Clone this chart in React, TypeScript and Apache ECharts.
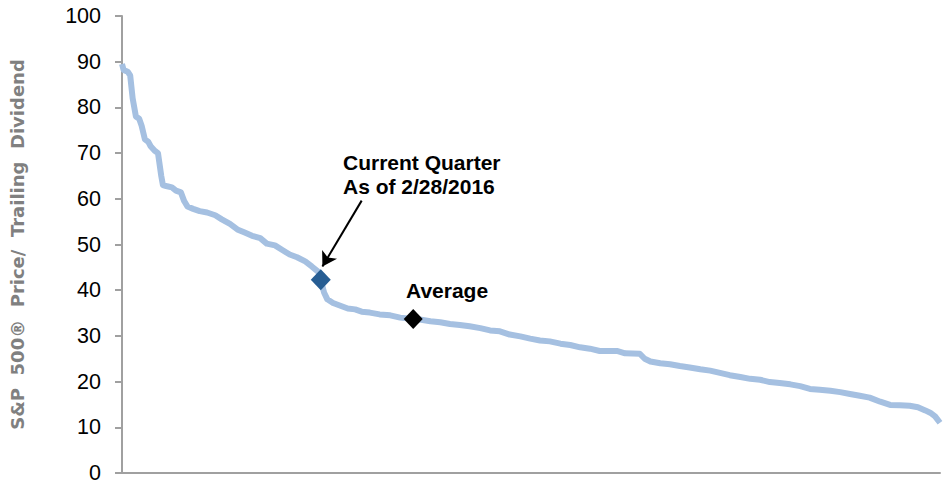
import React, { useEffect, useRef } from "react";
import * as echarts from "echarts";

// Percentile rank of each month (0 = highest ratio, 100 = lowest)
const rankPct: number[] = [
  0, 0.2, 0.7, 1.0, 1.3, 1.7, 2.1, 2.4, 2.8, 3.2, 3.5, 4.0, 4.4, 4.8, 5.0, 5.4,
  6.1, 6.6, 7.2, 7.6, 8.0, 8.7, 9.5, 10.4, 11.4, 12.2, 13.2, 14.1, 15.0, 15.9,
  16.9, 17.7, 18.7, 19.6, 20.5, 21.4, 22.4, 23.2, 24.0, 24.3, 24.7, 25.1, 25.8,
  26.7, 27.6, 28.5, 29.3, 30.3, 31.5, 32.8, 34.0, 35.6, 36.4, 37.7, 38.9, 40.1,
  41.3, 42.5, 43.8, 45.0, 46.2, 47.4, 48.7, 49.9, 51.1, 52.3, 53.6, 54.8, 56.0,
  57.2, 58.4, 60.5, 61.5, 63.3, 63.9, 64.6, 65.8, 67.0, 68.2, 69.4, 70.7, 71.9,
  73.1, 74.3, 75.6, 76.8, 78.0, 79.2, 80.4, 81.7, 82.9, 84.1, 85.3, 86.6, 87.8,
  89.0, 90.2, 91.4, 92.7, 93.9, 95.1, 96.3, 97.3, 98.2, 98.8, 99.4, 100,
];

// S&P 500 price / trailing dividend, sorted descending
const ratioValues: number[] = [
  89.5, 88.2, 87.8, 87.0, 82.0, 78.0, 77.5, 76.0, 73.0, 72.5, 71.5, 70.5, 70.0,
  65.0, 63.0, 62.8, 62.5, 61.8, 61.4, 59.5, 58.3, 57.8, 57.3, 57.0, 56.4, 55.5,
  54.5, 53.3, 52.6, 51.9, 51.4, 50.2, 49.8, 48.8, 47.8, 47.2, 46.3, 45.2, 44.0,
  42.3, 39.5, 38.0, 37.2, 36.6, 36.0, 35.8, 35.3, 35.1, 34.7, 34.5, 34.0, 33.7,
  33.6, 33.2, 33.0, 32.6, 32.4, 32.1, 31.7, 31.2, 31.0, 30.3, 29.9, 29.4, 29.0,
  28.8, 28.3, 28.0, 27.5, 27.2, 26.7, 26.7, 26.2, 26.1, 25.0, 24.4, 24.0, 23.8,
  23.4, 23.1, 22.7, 22.4, 21.9, 21.4, 21.0, 20.6, 20.4, 19.9, 19.7, 19.4, 19.0,
  18.4, 18.2, 18.0, 17.7, 17.3, 16.9, 16.5, 15.6, 14.9, 14.8, 14.7, 14.4, 13.7,
  13.2, 12.4, 11.0,
];

const currentPoint: [number, number] = [24.3, 42.3];
const averagePoint: [number, number] = [35.6, 33.7];
const arrowStart: [number, number] = [29.3, 59.6];
const arrowEnd: [number, number] = [24.5, 45.2];

const yAxisTitle = "S&P  500®  Price/  Trailing  Dividend";
const currentLabel = "Current Quarter\nAs of 2/28/2016";
const averageLabel = "Average";

const FONT = "'Liberation Sans', Arial, sans-serif";

export default function App() {
  const ref = useRef<HTMLDivElement>(null);
  useEffect(() => {
    if (!ref.current) return;
    const chart = echarts.init(ref.current, undefined, { renderer: "svg" });
    const lineData = rankPct.map((x, i) => [x, ratioValues[i]]);
    chart.setOption({
      animation: false,
      backgroundColor: "#ffffff",
      textStyle: { fontFamily: FONT },
      grid: { left: 122, right: 4, top: 16, bottom: 10, containLabel: false },
      xAxis: {
        type: "value",
        min: 0,
        max: 100,
        axisLine: { show: true, lineStyle: { color: "#a0a0a0", width: 2 } },
        axisTick: { show: false },
        axisLabel: { show: false },
        splitLine: { show: false },
      },
      yAxis: {
        type: "value",
        min: 0,
        max: 100,
        interval: 10,
        name: yAxisTitle,
        nameLocation: "middle",
        nameGap: 96,
        nameTextStyle: {
          fontFamily: "'DejaVu Sans', sans-serif",
          fontWeight: "bold",
          fontSize: 18,
          color: "#808080",
        },
        axisLine: { show: true, lineStyle: { color: "#a0a0a0", width: 2 } },
        axisTick: { show: true, inside: false, length: 7, lineStyle: { color: "#a0a0a0", width: 2 } },
        axisLabel: { color: "#000000", fontSize: 21.5, margin: 21, fontFamily: FONT },
        splitLine: { show: false },
      },
      series: [
        {
          type: "line",
          data: lineData,
          showSymbol: false,
          symbol: "none",
          lineStyle: { color: "#a5c0e1", width: 6, join: "round" },
          z: 2,
        },
        {
          type: "scatter",
          data: [currentPoint],
          symbol: "diamond",
          symbolSize: [20, 21],
          itemStyle: { color: "#265d93", opacity: 1 },
          z: 4,
          markLine: {
            silent: true,
            symbol: ["none", "arrow"],
            symbolSize: [13, 14],
            label: { show: false },
            lineStyle: { color: "#000000", width: 2, type: "solid" },
            data: [[{ coord: arrowStart }, { coord: arrowEnd }]],
          },
        },
        {
          type: "scatter",
          data: [averagePoint],
          symbol: "diamond",
          symbolSize: [19, 20],
          itemStyle: { color: "#000000", opacity: 1 },
          z: 4,
        },
      ],
      graphic: [
        {
          type: "text",
          left: 343,
          top: 150,
          style: {
            text: currentLabel,
            font: `bold 21px ${FONT}`,
            lineHeight: 24,
            fill: "#000000",
          },
        },
        {
          type: "text",
          left: 406,
          top: 278,
          style: {
            text: averageLabel,
            font: `bold 21px ${FONT}`,
            lineHeight: 24,
            fill: "#000000",
          },
        },
      ],
    });
    return () => chart.dispose();
  }, []);
  return (
    <div
      ref={ref}
      style={{ position: "fixed", left: 0, top: 0, width: 944, height: 484 }}
    />
  );
}
